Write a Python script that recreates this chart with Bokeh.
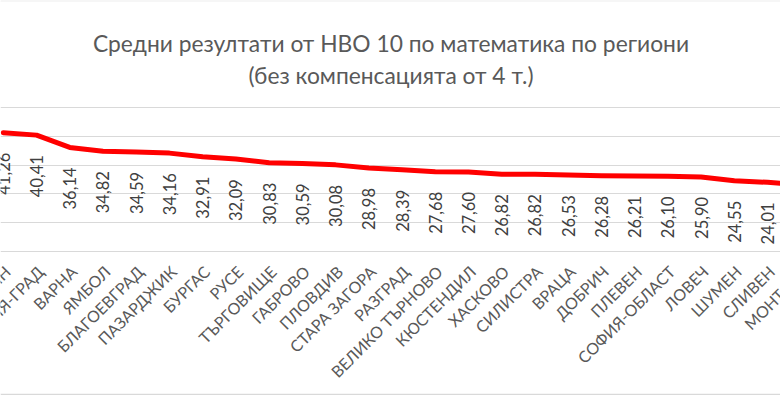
from math import pi
from bokeh.plotting import figure
from bokeh.models import ColumnDataSource, Range1d, Grid, FixedTicker, Label
from bokeh.core.properties import value
from bokeh.embed import file_html
from bokeh.resources import INLINE

regions = ["СМОЛЯН", "СОФИЯ-ГРАД", "ВАРНА", "ЯМБОЛ", "БЛАГОЕВГРАД", "ПАЗАРДЖИК",
           "БУРГАС", "РУСЕ", "ТЪРГОВИЩЕ", "ГАБРОВО", "ПЛОВДИВ", "СТАРА ЗАГОРА",
           "РАЗГРАД", "ВЕЛИКО ТЪРНОВО", "КЮСТЕНДИЛ", "ХАСКОВО", "СИЛИСТРА", "ВРАЦА",
           "ДОБРИЧ", "ПЛЕВЕН", "СОФИЯ-ОБЛАСТ", "ЛОВЕЧ", "ШУМЕН", "СЛИВЕН", "МОНТАНА"]
scores = [41.26, 40.41, 36.14, 34.82, 34.59, 34.16, 32.91, 32.09, 30.83, 30.59,
          30.08, 28.98, 28.39, 27.68, 27.60, 26.82, 26.82, 26.53, 26.28, 26.21,
          26.10, 25.90, 24.55, 24.01, 23.20]
grid_ticks = [0, 10, 20, 30, 40, 50]
title_line1 = "Средни резултати от НВО 10 по математика по региони"
title_line2 = "(без компенсацията от 4 т.)"

FONT = "Lato"
W, H = 780, 395
TOP_B, BOT_B = 1, 2
FRAME_H = H - TOP_B - BOT_B

src = ColumnDataSource(dict(
    x=list(range(len(regions))),
    y=scores,
    zero=[0] * len(regions),
    lab=[f"{v:.2f}".replace(".", ",") for v in scores],
    cat=regions,
))

p = figure(width=W, height=H, output_backend="svg", toolbar_location=None,
           x_axis_location=None, y_axis_location=None,
           x_range=Range1d(-0.0843, 23.389), y_range=Range1d(-49.31, 86.81),
           min_border_left=0, min_border_right=0, min_border_top=TOP_B,
           min_border_bottom=BOT_B)
p.xgrid.visible = False
p.ygrid.visible = False
p.outline_line_color = None
p.border_fill_color = "#D9D9D9"
p.background_fill_color = "white"

p.add_layout(Grid(dimension=1, ticker=FixedTicker(ticks=grid_ticks),
                  grid_line_color="#D9D9D9", grid_line_width=1))

p.line("x", "y", source=src, line_color="#FF0000", line_width=5,
       line_join="round", line_cap="round")

p.text("x", "y", text="lab", source=src, angle=pi / 2, text_align="right",
       text_baseline="middle", y_offset=20, text_font=value(FONT),
       text_font_size="16.5px", text_color="#404040")

p.text("x", "zero", text="cat", source=src, angle=pi / 4, text_align="right",
       text_baseline="middle", x_offset=4, y_offset=17, text_font=value(FONT),
       text_font_size="16px", text_color="#595959")

p.add_layout(Label(x=390.5, y=FRAME_H + TOP_B - 42, x_units="screen", y_units="screen",
                   text=title_line1, text_align="center", text_baseline="alphabetic",
                   text_font=FONT, text_font_size="22.8px", text_color="#595959"))
p.add_layout(Label(x=390.5, y=FRAME_H + TOP_B - 74, x_units="screen", y_units="screen",
                   text=title_line2, text_align="center", text_baseline="alphabetic",
                   text_font=FONT, text_font_size="22.8px", text_color="#595959"))

open("out.html", "w").write(file_html(p, INLINE))
